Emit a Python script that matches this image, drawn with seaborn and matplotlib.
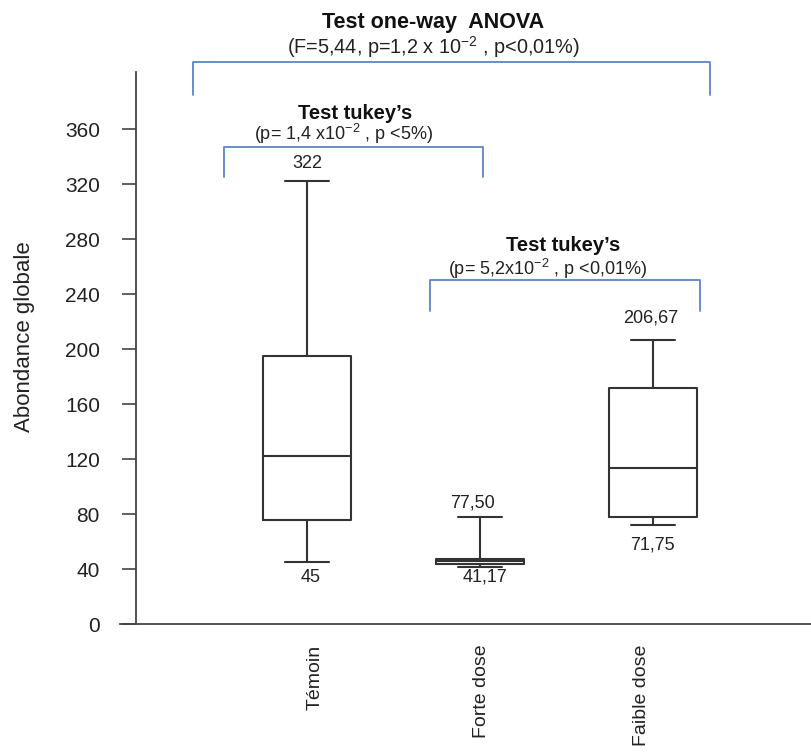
import numpy as np
import pandas as pd
import matplotlib
matplotlib.use("Agg")
import matplotlib.pyplot as plt
import matplotlib.transforms as mtransforms
import seaborn as sns

# ---- data ----
categories = ["Témoin", "Forte dose", "Faible dose"]
# five-number summaries: lower whisker, Q1, median, Q3, upper whisker
temoin_vals = [45.0, 75.6, 122.2, 195.1, 322.0]
forte_vals = [41.17, 44.0, 45.5, 47.0, 77.50]
faible_vals = [71.75, 77.8, 113.5, 171.6, 206.67]
whisker_labels_top = ["322", "77,50", "206,67"]
whisker_labels_bottom = ["45", "41,17", "71,75"]
y_ticks = [0, 40, 80, 120, 160, 200, 240, 280, 320, 360]

sns.set_theme(style="white")
plt.rcParams["font.family"] = ["Liberation Sans", "DejaVu Sans"]
plt.rcParams["mathtext.fontset"] = "custom"
plt.rcParams["mathtext.rm"] = "Liberation Sans"
plt.rcParams["mathtext.it"] = "Liberation Sans:italic"
plt.rcParams["mathtext.bf"] = "Liberation Sans:bold"

df = pd.DataFrame({
    "cat": np.repeat(categories, 5),
    "val": temoin_vals + forte_vals + faible_vals,
})

fig = plt.figure(figsize=(8.12, 7.52), dpi=100)
ax = fig.add_axes([136 / 812, 1 - 624 / 752, 1 - 136 / 812, (624 - 72) / 752])

line_col = "#333333"
sns.boxplot(data=df, x="cat", y="val", order=categories, whis=(0, 100),
            width=0.51, fill=False, color=line_col, linecolor=line_col,
            linewidth=1.5, ax=ax)

ax.set_ylim(0, 401.5)
ax.set_xlim(-0.988, 2.92)
ax.set_yticks(y_ticks)
ax.set_yticklabels([str(t) for t in y_ticks], fontsize=15, color="#222222")
ax.tick_params(axis="y", length=10, width=1.2, color="#444444", pad=16, left=True)
ax.tick_params(axis="x", length=0, pad=15)
ax.set_xticks(range(3))
ax.set_xticklabels(categories, rotation=90, fontsize=14, color="#222222",
                   va="top", ha="center")
# small horizontal offsets as in the reference
for lab, dx in zip(ax.get_xticklabels(), [8, 2, -11]):
    lab.set_transform(lab.get_transform() +
                      mtransforms.ScaledTranslation(dx / 100, 0, fig.dpi_scale_trans))
ax.set_xlabel("")
ax.set_ylabel("Abondance globale", fontsize=16, color="#222222")
ax.yaxis.set_label_coords(-0.15, 0.52)
for s in ["top", "right"]:
    ax.spines[s].set_visible(False)
for s in ["left", "bottom"]:
    ax.spines[s].set_color("#444444")
    ax.spines[s].set_linewidth(1.3)
ax.spines["bottom"].set_bounds(-1.08, 2.92)
ax.spines["bottom"].set_clip_on(False)

# whisker value labels
top_pos = [(0, 335), (0.96, 88), (1.99, 222.5)]
bot_pos = [(0.02, 33.5), (1.03, 34), (2.0, 57.5)]
for (x, y), t in zip(top_pos, whisker_labels_top):
    ax.text(x, y, t, ha="center", va="center", fontsize=13, color="#222222")
for (x, y), t in zip(bot_pos, whisker_labels_bottom):
    ax.text(x, y, t, ha="center", va="center", fontsize=13, color="#222222")

# brackets
blue = "#5B86C5"
def bracket(x0, x1, ytop, ybot):
    ax.plot([x0, x0, x1, x1], [ybot, ytop, ytop, ybot], color=blue, lw=1.3,
            clip_on=False, solid_joinstyle="round")

bracket(-0.659, 2.329, 408.7, 384.7)
bracket(-0.48, 1.017, 347, 325)
bracket(0.711, 2.272, 250, 227.6)

ax.text(0.73, 437.8, "Test one-way  ANOVA", ha="center", va="center",
        fontsize=15.5, fontweight="bold", color="#111111", clip_on=False)
ax.text(0.73, 419.6, "(F=5,44, p=1,2 x 10$^{-2}$ , p<0,01%)", ha="center", va="center",
        fontsize=14.3, color="#222222", clip_on=False)
ax.text(0.28, 371.6, "Test tukey\u2019s", ha="center", va="center",
        fontsize=14.5, fontweight="bold", color="#111111")
ax.text(0.21, 356.4, "(p= 1,4 x10$^{-2}$ , p <5%)", ha="center", va="center",
        fontsize=13, color="#222222")
ax.text(1.48, 275, "Test tukey\u2019s", ha="center", va="center",
        fontsize=14.5, fontweight="bold", color="#111111")
ax.text(1.39, 258, "(p= 5,2x10$^{-2}$ , p <0,01%)", ha="center", va="center",
        fontsize=13, color="#222222")

fig.savefig("out.png", dpi=100)
